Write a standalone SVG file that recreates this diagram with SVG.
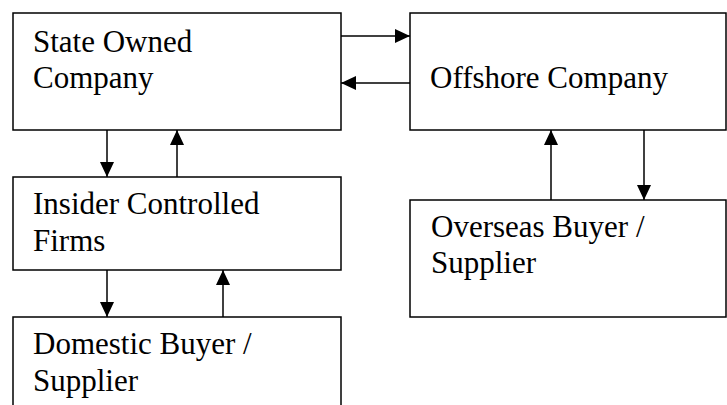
<svg xmlns="http://www.w3.org/2000/svg" width="727" height="405" viewBox="0 0 727 405">
<style>
.box{fill:#fff;stroke:#000;stroke-width:1.5}
.t{font-family:"Liberation Serif","Times New Roman",serif;font-size:31px;fill:#000}
.c{stroke:#000;stroke-width:1.5;fill:none;marker-end:url(#ah)}
</style>
<defs>
<marker id="ah" markerUnits="userSpaceOnUse" markerWidth="15" markerHeight="14" refX="15" refY="7" orient="auto">
<path d="M0,0 L15,7 L0,14 Z" fill="#000"/>
</marker>
</defs>
<rect width="727" height="405" fill="#fff"/>
<g id="state">
<rect class="box" x="13" y="13" width="328" height="117"/>
<text class="t" x="33" y="52">State Owned</text>
<text class="t" x="33" y="88">Company</text>
</g>
<g id="offshore">
<rect class="box" x="410" y="13" width="316" height="117"/>
<text class="t" x="430" y="88">Offshore Company</text>
</g>
<g id="insider">
<rect class="box" x="13" y="177" width="328" height="93"/>
<text class="t" x="33" y="214">Insider Controlled</text>
<text class="t" x="33" y="251">Firms</text>
</g>
<g id="domestic">
<rect class="box" x="13" y="317" width="328" height="100"/>
<text class="t" x="33" y="354">Domestic Buyer /</text>
<text class="t" x="33" y="391">Supplier</text>
</g>
<g id="overseas">
<rect class="box" x="410" y="200" width="316" height="117"/>
<text class="t" x="431" y="237">Overseas Buyer /</text>
<text class="t" x="431" y="273">Supplier</text>
</g>
<g id="connectors">
<line class="c" x1="341" y1="36" x2="410" y2="36"/>
<line class="c" x1="410" y1="83" x2="341" y2="83"/>
<line class="c" x1="107" y1="130" x2="107" y2="177"/>
<line class="c" x1="177" y1="177" x2="177" y2="130"/>
<line class="c" x1="107" y1="270" x2="107" y2="317"/>
<line class="c" x1="223" y1="317" x2="223" y2="270"/>
<line class="c" x1="551" y1="200" x2="551" y2="130"/>
<line class="c" x1="644" y1="130" x2="644" y2="200"/>
</g>
</svg>
